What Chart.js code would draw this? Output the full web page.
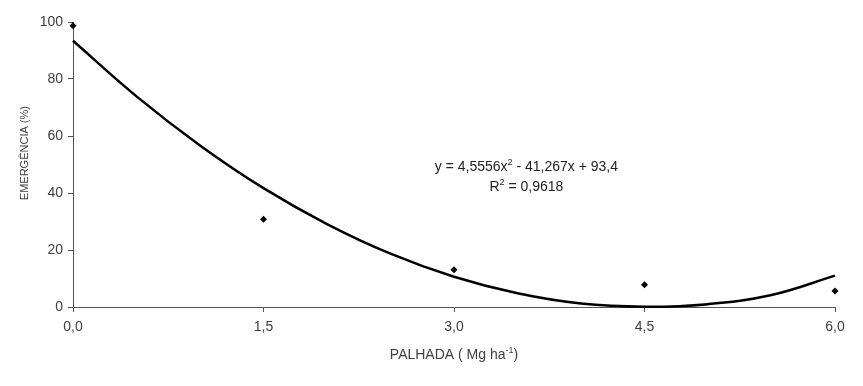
<!DOCTYPE html>
<html>
<head>
<meta charset="utf-8">
<script src="https://cdn.jsdelivr.net/npm/chart.js@4"></script>
<style>
  html, body { margin: 0; padding: 0; background: #fff; }
  #wrap { width: 863px; height: 386px; }
</style>
</head>
<body>
<div id="wrap"><canvas id="chart"></canvas></div>
<script>
// observed points
const palhada = [0, 1.5, 3, 4.5, 6];
const emergencia = [98.7, 30.8, 13.1, 7.8, 5.6];

// trend line
const trendX = [0, 0.5, 1, 1.5, 2, 2.5, 3, 3.5, 4, 4.5, 5, 5.5, 6];
const trendY = [93.4, 73.9, 56.7, 41.7, 29.1, 18.7, 10.6, 4.8, 1.2, 0.1, 1.0, 4.2, 11.0];

const xTicks = [0, 1.5, 3, 4.5, 6];
const yTicks = [0, 20, 40, 60, 80, 100];

// text pieces, [text, superscript?]
const eqLine1 = [["y = 4,5556x", false], ["2", true], [" - 41,267x + 93,4", false]];
const eqLine2 = [["R", false], ["2", true], [" = 0,9618", false]];
const xTitle = [["PALHADA ( Mg ha", false], ["-1", true], [")", false]];
const yTitle = "EMERGÊNCIA (%)";

const $axisC = "#555555";
const $textC = "#404040";
const $font = "'Liberation Sans', Arial, sans-serif";

function drawSup(ctx, parts, cx, cy, size, color){
    const big = size + "px " + $font;
    const small = Math.round(size * 0.65) + "px " + $font;
    let w = 0;
    parts.forEach(p => { ctx.font = p[1] ? small : big; w += ctx.measureText(p[0]).width; });
    let x = cx - w / 2;
    ctx.fillStyle = color;
    ctx.textAlign = "left";
    ctx.textBaseline = "middle";
    parts.forEach(p => {
        ctx.font = p[1] ? small : big;
        ctx.fillText(p[0], x, p[1] ? cy - size * 0.35 : cy);
        x += ctx.measureText(p[0]).width;
    });
}

const labels = {
    id: 'labels',
    afterDatasetsDraw(chart) {
        const ctx = chart.ctx;
        const xs = chart.scales.x, ys = chart.scales.y;
        ctx.save();
        drawSup(ctx, eqLine1, xs.getPixelForValue(3.57), ys.getPixelForValue(49), 14, "#222");
        drawSup(ctx, eqLine2, xs.getPixelForValue(3.57), ys.getPixelForValue(42), 14, "#222");
        drawSup(ctx, xTitle, xs.getPixelForValue(3), 355, 14, $textC);
        ctx.translate(25, ys.getPixelForValue(54));
        ctx.rotate(-Math.PI / 2);
        ctx.font = "11px " + $font;
        ctx.fillStyle = $textC;
        ctx.textAlign = "center";
        ctx.textBaseline = "middle";
        ctx.fillText(yTitle, 0, 0);
        ctx.restore();
    }
};

new Chart(document.getElementById('chart'), {
    type: 'scatter',
    data: {
        datasets: [
            {
                label: 'trend',
                type: 'line',
                data: trendX.map((x, i) => ({x: x, y: trendY[i]})),
                borderColor: '#000',
                borderWidth: 2.5,
                pointRadius: 0,
                tension: 0.4,
                fill: false,
                clip: false,
            },
            {
                label: 'emergencia',
                data: palhada.map((x, i) => ({x: x, y: emergencia[i]})),
                backgroundColor: '#000',
                borderColor: '#000',
                pointStyle: 'rectRot',
                pointRadius: 3.5,
                borderWidth: 0,
                clip: false,
            }
        ]
    },
    options: {
        responsive: true,
        maintainAspectRatio: false,
        animation: false,
        layout: { padding: { top: 22, right: 28, left: 0, bottom: 0 } },
        plugins: {
            legend: { display: false },
            tooltip: { enabled: false },
        },
        scales: {
            x: {
                type: 'linear',
                min: 0,
                max: 6,
                afterBuildTicks: s => { s.ticks = xTicks.map(v => ({value: v})); },
                afterFit: s => { s.height = 79; },
                grid: { drawOnChartArea: false, tickLength: 5, color: $axisC },
                border: { color: $axisC, width: 1 },
                ticks: {
                    color: $textC,
                    font: { family: $font, size: 14 },
                    padding: 7,
                    maxRotation: 0,
                    callback: v => v.toFixed(1).replace('.', ','),
                },
            },
            y: {
                min: 0,
                max: 100,
                afterBuildTicks: s => { s.ticks = yTicks.map(v => ({value: v})); },
                afterFit: s => { s.width = 73; },
                grid: { drawOnChartArea: false, tickLength: 5, color: $axisC },
                border: { color: $axisC, width: 1 },
                ticks: {
                    color: $textC,
                    font: { family: $font, size: 14 },
                    padding: 5,
                },
            }
        }
    },
    plugins: [labels]
});
</script>
</body>
</html>
